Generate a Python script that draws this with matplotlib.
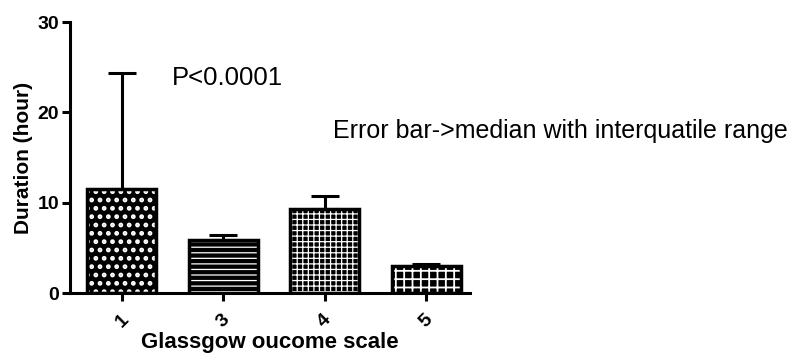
import matplotlib.pyplot as plt
import numpy as np

plt.rcParams['font.family'] = ['Liberation Sans', 'DejaVu Sans']

# data
groups = ['1', '3', '4', '5']
medians = [11.5, 5.9, 9.3, 3.0]
upper_q = [24.4, 6.4, 10.8, 3.2]
hatches = ['..', '---', '+++', '++']
hatch_lw = [2.2, 0.9, 0.9, 1.3]

x = np.arange(len(groups))
err = [np.zeros(len(groups)), np.array(upper_q) - np.array(medians)]

fig = plt.figure(figsize=(8, 3.57), dpi=100)
ax = fig.add_axes([0.0875, 0.179, 0.5, 0.759])

# errorbars first so bars sit over the lower stub
ax.errorbar(x, medians, yerr=err, fmt='none', ecolor='black',
            elinewidth=2.2, capsize=10, capthick=2.2, zorder=1)

# hatch drawn in white on black, outline drawn separately in black
for xi, m, h, hl in zip(x, medians, hatches, hatch_lw):
    with plt.rc_context({'hatch.linewidth': hl}):
        b = ax.bar(xi, m, width=0.68, color='black', edgecolor='white',
                   hatch=h, linewidth=0, zorder=2)
    for p in b:
        if hasattr(p, 'set_hatch_linewidth'):
            p.set_hatch_linewidth(hl)
ax.bar(x, medians, width=0.68, facecolor='none', edgecolor='black',
       linewidth=2.5, zorder=3)

ax.set_xlim(-0.512, 3.43)
ax.set_ylim(0, 30)
ax.set_yticks([0, 10, 20, 30])
ax.set_xticks(x)
ax.set_xticklabels(groups, rotation=45, fontweight='bold', fontsize=14)
for lab in ax.get_yticklabels():
    lab.set_fontweight('bold')
    lab.set_fontsize(14)

for s in ['top', 'right']:
    ax.spines[s].set_visible(False)
for s in ['left', 'bottom']:
    ax.spines[s].set_linewidth(2.2)
ax.tick_params(width=2.2, length=6, pad=2)
ax.tick_params(axis='x', pad=7)

ax.set_ylabel('Duration (hour)', fontweight='bold', fontsize=15, labelpad=3)
ax.set_xlabel('Glassgow oucome scale', fontweight='bold', fontsize=16, labelpad=1)

fig.text(172 / 800, 1 - 78 / 357, 'P<0.0001', fontsize=18.5, va='center', ha='left')
fig.text(333 / 800, 1 - 131 / 357, 'Error bar->median with interquatile range',
         fontsize=18, va='center', ha='left')

fig.savefig('out.png', dpi=100)
